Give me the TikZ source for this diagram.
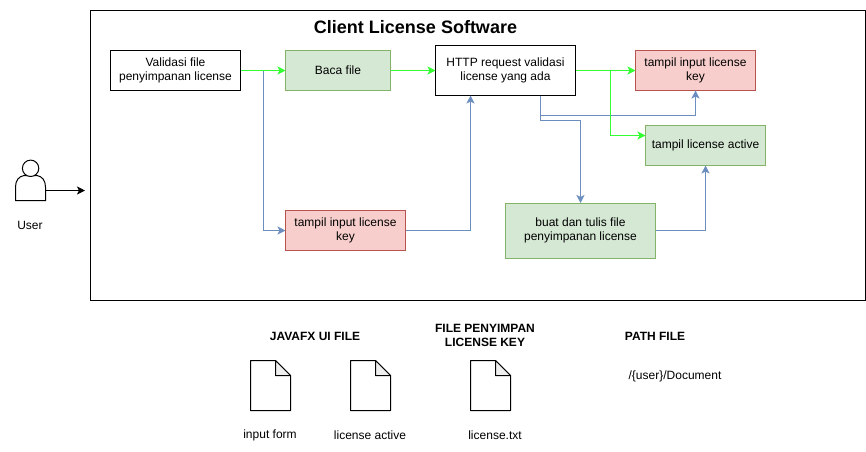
\documentclass[tikz,border=0pt]{standalone}
\usepackage{fontspec}
\setmainfont{Liberation Sans}
\usetikzlibrary{arrows.meta}
\definecolor{gfill}{HTML}{D5E8D4}
\definecolor{gline}{HTML}{82B366}
\definecolor{rfill}{HTML}{F8CECC}
\definecolor{rline}{HTML}{B85450}
\definecolor{flow}{HTML}{6C8EBF}
\definecolor{lime}{HTML}{33FF33}
\definecolor{foldgray}{HTML}{EFEFEF}
\tikzset{
  box/.style={draw=black,fill=white,line width=1pt,rectangle,inner sep=0pt,outer sep=0pt,align=center,font=\fontsize{12}{14}\selectfont},
  greenbox/.style={box,draw=gline,fill=gfill},
  redbox/.style={box,draw=rline,fill=rfill},
  lbl/.style={inner sep=0pt,outer sep=0pt,align=center,font=\fontsize{12}{14}\selectfont},
  boldlbl/.style={lbl,font=\fontsize{12}{14}\selectfont\bfseries},
  tip/.style={-{Stealth[length=8pt,width=8pt,inset=2pt]}},
  blueflow/.style={tip,draw=flow,line width=1pt},
  greenflow/.style={tip,draw=lime,line width=1pt},
  blackflow/.style={tip,draw=black,line width=1pt},
  doc/.style={draw=black,fill=white,line width=1pt,line join=round},
  docfold/.style={draw=black,fill=foldgray,line width=1pt,line join=round}
}
\newcommand{\filesheet}[2]{%
  \draw[doc] (#1,#2) -- (#1+25,#2) -- (#1+40,#2+15) -- (#1+40,#2+50) -- (#1,#2+50) -- cycle;
  \draw[docfold] (#1+25,#2) -- (#1+40,#2+15) -- (#1+25,#2+15) -- cycle;
}
\begin{document}
\begin{tikzpicture}[x=1pt,y=-1pt]
\useasboundingbox (0,0) rectangle (866,451);
% frame
\node[box,minimum width=775pt,minimum height=290pt] (frame) at (478,155.5) {};
\node[lbl,font=\fontsize{18}{21}\selectfont\bfseries] (title) at (415.5,27) {Client License Software};
% user
\draw[line width=1pt,fill=white] (15.5,200.5) -- (15.5,187) .. controls (15.5,180) and (19,176.5) .. (24,175.5) -- (37,175.5) .. controls (42,176.5) and (45.5,180) .. (45.5,187) -- (45.5,200.5) -- cycle;
\draw[line width=1pt,fill=white] (30.6,168.3) circle (8.2);
\coordinate (userright) at (45.5,190.5);
\coordinate (frameentry) at (85,190.5);
\node[lbl] (usertext) at (30,225.5) {User};
% boxes
\node[box,minimum width=130pt,minimum height=40pt] (validasi) at (175.5,70.5) {Validasi file\\penyimpanan license};
\node[greenbox,minimum width=105pt,minimum height=40pt] (baca) at (338,70.5) {Baca file};
\node[box,minimum width=140pt,minimum height=50pt] (http) at (505.5,70.5) {HTTP request validasi\\license yang ada};
\node[redbox,minimum width=120pt,minimum height=40pt] (keytop) at (695.5,70.5) {tampil input license\\key};
\node[greenbox,minimum width=120pt,minimum height=40pt] (active) at (705.5,145.5) {tampil license active};
\node[greenbox,minimum width=150pt,minimum height=55pt] (buat) at (580.5,230.5) {buat dan tulis file\\penyimpanan license};
\node[redbox,minimum width=120pt,minimum height=40pt] (keybot) at (345.5,230.5) {tampil input license\\key};
% connector attachment points
\coordinate (splitA) at (263,70.5);
\coordinate (httpin) at (470.5,95.5);
\coordinate (httpout) at (540.5,95.5);
\coordinate (splitB) at (610.5,70.5);
\coordinate (activein) at (645.5,135.5);
% connectors
\draw[blackflow] (userright) -- (frameentry);
\draw[blueflow] (validasi.east) -- (splitA) |- (keybot.west);
\draw[greenflow] (validasi.east) -- (baca.west);
\draw[greenflow] (baca.east) -- (http.west);
\draw[blueflow] (keybot.east) -| (httpin);
\draw[blueflow] (httpout) -- (540.5,115.5) -| (keytop.south);
\draw[blueflow] (httpout) -- (540.5,120.5) -| (buat.north);
\draw[blueflow] (buat.east) -| (active.south);
\draw[greenflow] (http.east) -- (keytop.west);
\draw[greenflow] (splitB) |- (activein);
% legend
\node[boldlbl] (javafx) at (315,336) {JAVAFX UI FILE};
\node[boldlbl] (penyimpan) at (485,335.5) {FILE PENYIMPAN\\LICENSE KEY};
\node[boldlbl] (pathfile) at (655,336) {PATH FILE};
\node[lbl] (pathval) at (675,376) {/\{user\}/Document};
\filesheet{250.5}{360.5}
\filesheet{350.5}{360.5}
\filesheet{470.5}{360.5}
\node[lbl] (f1) at (270,435.5) {input form};
\node[lbl] (f2) at (370,435.5) {license active};
\node[lbl] (f3) at (495,435.5) {license.txt};
\end{tikzpicture}
\end{document}
